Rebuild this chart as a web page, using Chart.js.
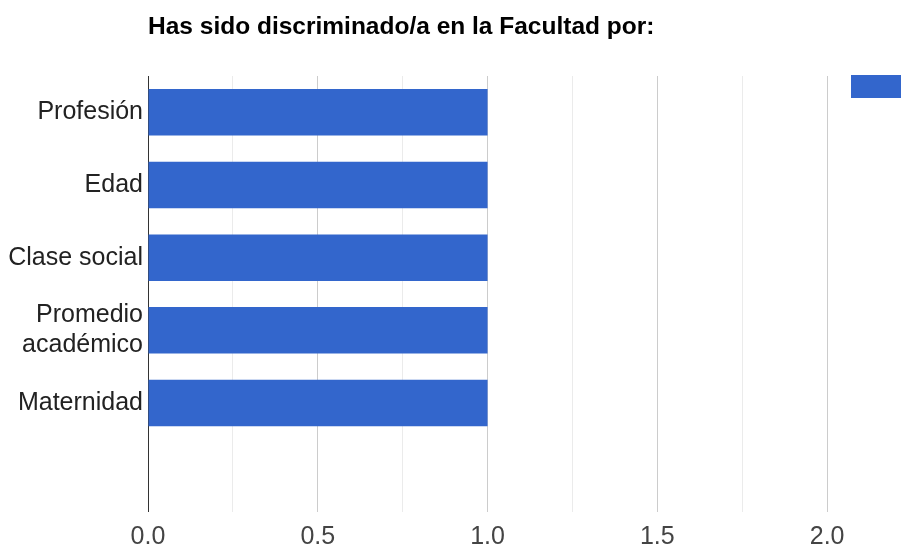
<!DOCTYPE html>
<html>
<head>
<meta charset="utf-8">
<script src="https://cdn.jsdelivr.net/npm/chart.js@4"></script>
<style>
  html, body { margin: 0; padding: 0; background: #fff; }
  #wrap { width: 912px; height: 552px; }
</style>
</head>
<body>
<div id="wrap"><canvas id="myChart" width="912" height="552"></canvas></div>
<script>
const chartTitle = 'Has sido discriminado/a en la Facultad por:';
const categories = ['Profesión', 'Edad', 'Clase social', ['Promedio', 'académico'], 'Maternidad', ''];
const values = [1, 1, 1, 1, 1, null];
const seriesName = '';

const ctx = document.getElementById('myChart').getContext('2d');

// legend sits inside the plot, top right corner
const legendInPlot = {
  id: 'legendInPlot',
  afterLayout(chart) {
    const lg = chart.legend;
    const area = chart.chartArea;
    lg.left = area.right - 61;
    lg.top = area.top - 1;
    lg.right = lg.left + lg.width;
    lg.bottom = lg.top + lg.height;
  }
};

const myChart = new Chart(ctx, {
  type: 'bar',
  data: {
    labels: categories,
    datasets: [{
      label: seriesName,
      data: values,
      backgroundColor: '#3366cc',
      borderWidth: 0,
      barPercentage: 0.64,
      categoryPercentage: 1
    }]
  },
  plugins: [legendInPlot],
  options: {
    indexAxis: 'y',
    responsive: false,
    animation: false,
    layout: { padding: 0 },
    plugins: {
      title: {
        display: true,
        text: chartTitle,
        align: 'start',
        fullSize: false,
        color: '#000',
        font: { family: 'Liberation Sans, Arial', size: 24.5, weight: 'bold' },
        padding: { top: 13, bottom: 33.6 }
      },
      legend: {
        display: true,
        position: 'chartArea',
        align: 'start',
        labels: {
          boxWidth: 50,
          boxHeight: 23,
          padding: 0,
          font: { size: 1 }
        }
      },
      tooltip: { enabled: false }
    },
    scales: {
      x: {
        min: 0,
        max: 2.25,
        ticks: {
          stepSize: 0.25,
          padding: 0,
          color: '#444',
          font: { family: 'Liberation Sans, Arial', size: 25 },
          callback: (v) => (Math.abs(v * 2 - Math.round(v * 2)) < 1e-6 && v < 2.2) ? v.toFixed(1) : ''
        },
        grid: {
          drawTicks: true,
          tickLength: 10,
          tickColor: 'rgba(0,0,0,0)',
          color: (c) => {
            const v = c.tick ? c.tick.value : 0;
            if (Math.abs(v) < 1e-6) return '#333';
            if (Math.abs(v * 2 - Math.round(v * 2)) < 1e-6) return '#cccccc';
            return '#ebebeb';
          }
        },
        border: { display: false }
      },
      y: {
        ticks: {
          padding: 5,
          color: '#222',
          font: { family: 'Liberation Sans, Arial', size: 25 }
        },
        grid: { display: false, drawTicks: false },
        border: { display: false },
        afterFit: (scale) => { scale.width = 148; }
      }
    }
  }
});
</script>
</body>
</html>
